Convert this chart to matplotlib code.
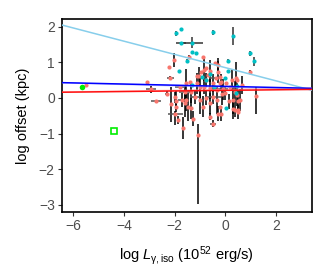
import numpy as np
import matplotlib
matplotlib.use("Agg")
import matplotlib.pyplot as plt

plt.rcParams['font.family'] = ['Liberation Sans', 'DejaVu Sans']
plt.rcParams['mathtext.fontset'] = 'custom'
plt.rcParams['mathtext.rm'] = 'Liberation Sans'
plt.rcParams['mathtext.it'] = 'Liberation Sans:italic'

# salmon sample: log L, log offset, x error, lower / upper y error
red_x = [-5.49, -3.11, -2.95, -2.72, -2.32, -2.23, -2.17, -2.03, -2.13, -1.98,
         -2.00, -1.95, -1.67, -1.60, -1.54, -1.40, -1.44, -1.27, -1.10, -1.14,
         -1.00, -0.88, -0.75, -0.49, -0.42, -0.29, -0.22, -0.12, 0.41, 0.96,
         1.22, 0.37, -0.18, 0.50, -1.05, -0.96, -0.85, -0.77, -0.68, -0.59,
         -0.49, -0.38, -0.29, -0.20, -0.09, 0.00, 0.17, 0.28, 0.46, 0.50,
         0.59, 0.67, 0.51, 0.30, 0.12, -0.22, -0.35, -0.49, -0.62, -0.75,
         -0.88, -1.01, -1.21, -1.34, -1.47, -1.60, -1.73, -1.93, -1.80, -1.54,
         -1.14, -0.85, -0.62, -0.35, -0.16, 0.04, 0.24, 0.37, 0.46, -0.29,
         -0.62, -1.36, -1.86]
red_y = [0.35, 0.44, 0.24, -0.08, 0.12, 0.87, 0.56, 1.06, -0.18, -0.46,
         0.02, -0.25, -0.85, -0.15, -0.06, 0.46, 1.16, -0.58, -1.03, 0.61,
         0.30, 1.16, 0.83, -0.72, 0.97, 0.92, 0.60, 0.10, 0.55, 0.73,
         0.05, -0.34, -0.44, -0.40, 0.61, 0.73, 0.78, 0.50, 0.64, 0.76,
         0.41, 0.55, 0.73, 0.41, 0.24, 0.13, 0.31, -0.06, 0.50, -0.10,
         -0.06, 0.36, -0.34, -0.30, -0.10, -0.25, -0.06, 0.03, -0.15, -0.01,
         -0.25, -0.06, 0.03, 0.17, -0.25, 0.17, -0.06, -0.10, 0.31, 0.41,
         0.41, 0.31, 0.27, 0.22, 0.46, 0.41, 0.50, 0.17, 0.08, -0.44,
         -0.53, -0.28, -0.62]
red_xerr = [0, 0, 0.20, 0.20, 0.08, 0, 0.15, 0, 0, 0.30,
            0, 0, 0, 0, 0, 0, 0.05, 0, 0, 0,
            0, 0, 0, 0.10, 0, 0, 0, 0, 0, 0,
            0, 0, 0, 0, 0, 0, 0, 0, 0, 0,
            0, 0.25, 0, 0, 0.20, 0, 0, 0, 0, 0,
            0, 0, 0, 0, 0, 0, 0, 0.30, 0, 0,
            0, 0, 0.20, 0, 0, 0.25, 0.15, 0, 0.20, 0,
            0, 0, 0, 0.20, 0, 0, 0, 0, 0, 0,
            0, 0, 0]
red_ylo = [0, 0, 0.10, 0, 0.08, 0, 0.05, 0.20, 0.50, 0.30,
           0.15, 0.10, 0.30, 0.40, 0.30, 0, 0.05, 0.20, 1.95, 0,
           0.30, 0, 0, 0.10, 0, 0.20, 0, 0.30, 0.45, 0.05,
           0.50, 0.20, 0.20, 0.20, 0.25, 0, 0.30, 0.20, 0, 0.30,
           0.25, 0, 0.30, 0, 0.30, 0.20, 0, 0.40, 0, 0.30,
           0.30, 0.25, 0, 0.30, 0.20, 0, 0.40, 0.20, 0.30, 0.20,
           0.30, 0.40, 0.20, 0.30, 0.40, 0.20, 0.20, 0.30, 0, 0.40,
           0.30, 0.20, 0.30, 0, 0.20, 0, 0.30, 0.30, 0.30, 0.20,
           0.10, 0.30, 0.10]
red_yhi = [0, 0, 0.10, 0, 0.08, 0, 0.05, 0.20, 0.50, 0.10,
           0.15, 0.10, 0.30, 0.40, 0.30, 0, 0.05, 0.20, 0.30, 0,
           0.30, 0, 0, 0.10, 0, 0.20, 0, 0.30, 0.45, 0.05,
           0.25, 0.20, 0.20, 0.20, 0.25, 0, 0.30, 0.20, 0, 0.30,
           0.25, 0, 0.30, 0, 0.30, 0.20, 0, 0.40, 0, 0.30,
           0.30, 0.25, 0, 0.30, 0.20, 0, 0.40, 0.20, 0.30, 0.20,
           0.30, 0.40, 0.20, 0.30, 0.40, 0.20, 0.20, 0.30, 0, 0.40,
           0.30, 0.20, 0.30, 0, 0.20, 0, 0.30, 0.30, 0.30, 0.20,
           0.10, 0.30, 0.10]

# cyan sample
cyan_x = [-1.93, -1.76, -0.51, 0.30, -1.33, -1.76, -1.30, -1.18, -1.50, 0.96,
          1.14, 0.09, 0.09, -1.85, -0.92, -0.60, -0.03, -0.75, -1.33, 0.43,
          0.04, 0.45, -0.45]
cyan_y = [1.81, 1.93, 1.84, 1.75, 1.55, 1.53, 1.30, 1.25, 1.04, 1.25,
          1.03, 1.03, 0.75, 0.75, 0.60, 0.67, 0.55, 0.50, 0.36, 0.14,
          -0.28, 0.33, 0.30]
cyan_xerr = [0.07, 0.05, 0, 0, 0.45, 0.20, 0, 0, 0, 0,
             0, 0, 0, 0, 0, 0, 0, 0, 0, 0,
             0, 0, 0]
cyan_yerr = [0.07, 0, 0.08, 0.25, 0.15, 0, 0, 0, 0.05, 0.06,
             0.12, 0.05, 0, 0, 0, 0, 0, 0, 0, 0,
             0, 0.10, 0]

# isolated events
green_dot = (-5.66, 0.31)
green_square = (-4.41, -0.92)

# fitted relations: intercept, slope
fit_intercept = [0.85, 0.325, 0.212]
fit_slope = [-0.186, -0.0162, 0.0081]
fit_colors = ['#87CEEB', '#0000FF', '#FF1010']

fig = plt.figure(figsize=(3.32, 2.74), dpi=100)
ax = fig.add_axes([0.186, 0.227, 0.753, 0.704])

ax.errorbar(red_x, red_y, yerr=[red_ylo, red_yhi], fmt='none',
            ecolor='black', elinewidth=1.1, capsize=0, zorder=2)
ax.errorbar(red_x, red_y, xerr=red_xerr, fmt='none',
            ecolor='#555555', elinewidth=1.1, capsize=0, zorder=2)
ax.errorbar(cyan_x, cyan_y, xerr=cyan_xerr, yerr=cyan_yerr, fmt='none',
            ecolor='#333333', elinewidth=1.1, capsize=0, zorder=2)

ax.plot(red_x, red_y, 'o', color='#F8766D', ms=3.0, mew=0, zorder=3)
ax.plot(cyan_x, cyan_y, 'o', color='#00BFC4', ms=3.0, mew=0, zorder=3)

# faint companion lines under the fits
ax.axline((0, fit_intercept[1] - 0.025), slope=fit_slope[1] - 0.003,
          color='#A0A0FF', lw=1.0, alpha=0.6, zorder=3.5)
ax.axline((0, fit_intercept[2] + 0.025), slope=fit_slope[2] + 0.003,
          color='#FFA0A0', lw=1.0, alpha=0.6, zorder=3.5)
for b, m, c in zip(fit_intercept, fit_slope, fit_colors):
    ax.axline((0, b), slope=m, color=c, lw=1.1, zorder=4)

ax.plot(*green_dot, 'o', color='#00EE00', ms=4, mew=0, zorder=5)
ax.plot(*green_square, 's', mfc='none', mec='#00EE00', ms=5, mew=1.2, zorder=5)

ax.set_xlim(-6.45, 3.4)
ax.set_ylim(-3.2, 2.22)
ax.set_xticks([-6, -4, -2, 0, 2])
ax.set_yticks([-3, -2, -1, 0, 1, 2])
ax.set_xticklabels(['\u22126', '\u22124', '\u22122', '0', '2'])
ax.set_yticklabels(['\u22123', '\u22122', '\u22121', '0', '1', '2'])

for s in ax.spines.values():
    s.set_linewidth(1.2)
    s.set_color('black')
ax.tick_params(direction='out', length=3, width=0.8, color='#333333',
               labelcolor='#4D4D4D', labelsize=10, pad=2)

ax.set_xlabel(r'log $L_{\mathrm{\gamma,iso}}$ (10$^{52}$ erg/s)', fontsize=10.5, labelpad=8)
ax.set_ylabel('log offset (kpc)', fontsize=10.5, labelpad=6)

fig.savefig('out.png', dpi=100)
